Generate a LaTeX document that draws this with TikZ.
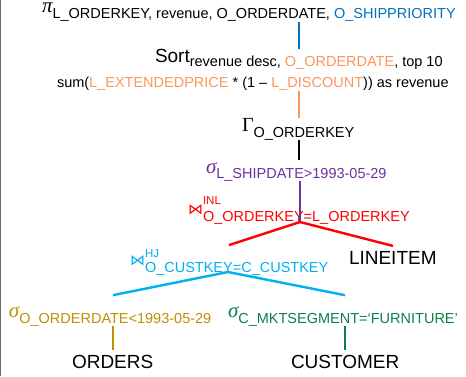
\documentclass[tikz,border=0pt]{standalone}
\usepackage{fontspec}
\setmainfont{Liberation Sans}
\newfontfamily\greekfont{Liberation Serif}
\newfontfamily\symfont{DejaVu Sans}

\definecolor{cblue}{HTML}{0070C0}
\definecolor{corange}{HTML}{F8975A}
\definecolor{cpurple}{HTML}{7030A0}
\definecolor{cred}{HTML}{FF0000}
\definecolor{ccyan}{HTML}{00B0F0}
\definecolor{cgold}{HTML}{BF8F00}
\definecolor{cgreen}{HTML}{0B7F4A}

\newcommand\bigsz{\fontsize{19}{22}\selectfont}
\newcommand\subsz{\fontsize{14.5}{17}\selectfont}
\newcommand\supsz{\fontsize{11.5}{13}\selectfont}
\newcommand\lowered[2]{\raisebox{-#1}{\subsz #2}}
\newcommand\gsym[1]{{\greekfont\itshape\fontsize{21}{24}\selectfont #1}}
\newcommand\joinsym[3]{{\symfont\fontsize{15}{17}\selectfont ⋈}\makebox[0pt][l]{\raisebox{#2}{\supsz #1}}\lowered{#3}}

\begin{document}
\begin{tikzpicture}[x=1pt,y=-1pt,
  lbl/.style={anchor=base west,inner sep=0pt,outer sep=0pt,font=\bigsz},
  edge/.style={line width=2.4pt},
]
\useasboundingbox (0,0) rectangle (466,376);
\draw[black!60, line width=1pt] (0.5,0) -- (0.5,376);

\coordinate (spine) at (299,0);

% operators
\node[lbl] (pi) at (42,12)
  {\gsym{π}\lowered{6pt}{L\_ORDERKEY, revenue, O\_ORDERDATE, \textcolor{cblue}{O\_SHIPPRIORITY}}};
\node[lbl] (sort) at (155,62)
  {Sort\lowered{4pt}{revenue desc, \textcolor{corange}{O\_ORDERDATE}, top 10}};
\node[lbl,font=\subsz] (sum) at (57,87)
  {sum(\textcolor{corange}{L\_EXTENDEDPRICE} * (1 – \textcolor{corange}{L\_DISCOUNT})) as revenue};
\node[lbl] (gamma) at (242,131) {{\greekfont\fontsize{20}{23}\selectfont Γ}\lowered{6pt}{O\_ORDERKEY}};
\node[lbl,text=cpurple] (selship) at (206,173) {\gsym{σ}\lowered{5pt}{L\_SHIPDATE>1993-05-29}};
\node[lbl,text=cred] (inl) at (188,214) {\joinsym{INL}{10pt}{7pt}{O\_ORDERKEY=L\_ORDERKEY}};
\node[lbl] (lineitem) at (349,264) {LINEITEM};
\node[lbl,text=ccyan] (hj) at (130,265) {\joinsym{HJ}{8pt}{7pt}{O\_CUSTKEY=C\_CUSTKEY}};
\node[lbl,text=cgold] (selord) at (9,317) {\gsym{σ}\lowered{6pt}{O\_ORDERDATE<1993-05-29}};
\node[lbl,text=cgreen] (selcust) at (228,317) {\gsym{σ}\lowered{6pt}{C\_MKTSEGMENT=‘FURNITURE’}};
\node[lbl] (orders) at (72,368) {ORDERS};
\node[lbl] (customer) at (291,368) {CUSTOMER};

% straight pipeline
\draw[edge,cblue] ([yshift=-1pt]pi.south -| spine) -- (sort.north -| spine);
\draw[edge,corange] ([yshift=-1pt]sum.south -| spine) -- (gamma.north -| spine);
\draw[edge,black] (gamma.south -| spine) -- ([yshift=2pt]selship.north -| spine);
\draw[edge,cpurple] (selship.south -| 300,0) -- ([yshift=3pt]inl.south -| 300,0);

% join branches
\coordinate (inlfoot) at ([yshift=-8pt]inl.base -| 300,0);
\draw[edge,cred] (inlfoot) -- ([yshift=4pt]hj.north -| 229,0);
\draw[edge,cred] (inlfoot) -- ([yshift=5pt]lineitem.north -| 393,0);

\coordinate (hjfoot) at ([yshift=-7pt]hj.base -| 228,0);
\draw[edge,ccyan] (hjfoot) -- ([yshift=11pt]selord.north -| 113,0);
\draw[edge,ccyan] (hjfoot) -- ([yshift=11pt]selcust.north -| 345,0);

\draw[edge,cgold] (selord.south -| 113,0) -- ([yshift=5pt]orders.north -| 113,0);
\draw[edge,cgreen] (selcust.south -| 345,0) -- ([yshift=5pt]customer.north -| 345,0);
\end{tikzpicture}
\end{document}
